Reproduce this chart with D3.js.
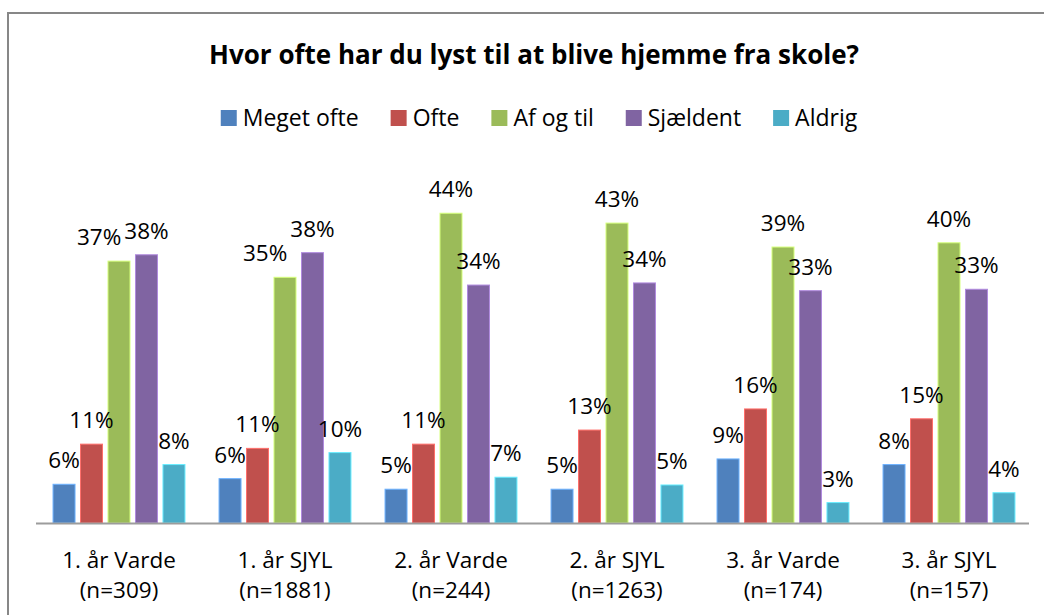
<!DOCTYPE html>
<html>
<head>
<meta charset="utf-8">
<script src="https://cdn.jsdelivr.net/npm/d3@7"></script>
<style>
  body { margin: 0; background: #fff; }
  svg text { font-family: "Open Sans", "Liberation Sans", sans-serif; fill: #000; }
</style>
</head>
<body>
<svg id="chart" width="1044" height="615"></svg>
<script>
const groups = ["1. år Varde", "1. år SJYL", "2. år Varde", "2. år SJYL", "3. år Varde", "3. år SJYL"];
const groupN = ["(n=309)", "(n=1881)", "(n=244)", "(n=1263)", "(n=174)", "(n=157)"];
const series = ["Meget ofte", "Ofte", "Af og til", "Sjældent", "Aldrig"];
const colors = ["#4f81bd", "#c0504d", "#9bbb59", "#8064a2", "#4bacc6"];

// percent values per series, one per group
const megetOfte = [5.5, 6.3, 4.8, 4.8, 9.1, 8.3];
const ofte = [11.2, 10.6, 11.2, 13.2, 16.2, 14.8];
const afOgTil = [37.2, 34.9, 44.0, 42.6, 39.2, 39.8];
const sjaeldent = [38.1, 38.4, 33.8, 34.1, 33.0, 33.2];
const aldrig = [8.3, 10.0, 6.5, 5.4, 2.9, 4.3];
const values = [megetOfte, ofte, afOgTil, sjaeldent, aldrig];

const svg = d3.select("#chart");

// outer frame (right and bottom edges fall outside the picture)
svg.append("rect")
    .attr("x", 8).attr("y", 13)
    .attr("width", 1100).attr("height", 700)
    .attr("fill", "#fff")
    .attr("stroke", "#878787")
    .attr("stroke-width", 2);

const x0 = d3.scaleBand().domain(groups).range([36, 1032]);
const x1 = d3.scaleBand().domain(series).range([0, x0.bandwidth()])
    .paddingInner(0.2).paddingOuter(0.62);
const y = d3.scaleLinear().domain([0, 50]).range([523, 171]);

svg.append("text")
    .attr("x", 534).attr("y", 64)
    .attr("text-anchor", "middle")
    .attr("font-size", 26)
    .attr("font-weight", "bold")
    .text("Hvor ofte har du lyst til at blive hjemme fra skole?");

// legend, laid out from measured text widths and centred
const legend = svg.append("g");
let lx = 0;
series.forEach((s, i) => {
    const item = legend.append("g").attr("transform", `translate(${lx},0)`);
    item.append("rect").attr("x", 0).attr("y", 110).attr("width", 16).attr("height", 16)
        .attr("fill", colors[i]);
    const t = item.append("text").attr("x", 22).attr("y", 126)
        .attr("font-size", 23).text(s);
    lx += 22 + t.node().getComputedTextLength() + 32;
});
lx -= 32;
legend.attr("transform", `translate(${539 - lx / 2},0)`);

// bars
const g = svg.append("g");
groups.forEach((grp, gi) => {
    series.forEach((s, si) => {
        const v = values[si][gi];
        g.append("rect")
            .attr("x", x0(grp) + x1(s))
            .attr("y", y(v))
            .attr("width", x1.bandwidth())
            .attr("height", y(0) - y(v))
            .attr("fill", colors[si])
            .attr("stroke", d3.color(colors[si]).brighter(0.9))
            .attr("stroke-width", 1);
    });
});

// axis line
svg.append("line")
    .attr("x1", 36).attr("x2", 1029)
    .attr("y1", y(0) + 0.5).attr("y2", y(0) + 0.5)
    .attr("stroke", "#9c9c9c").attr("stroke-width", 2);

// data labels, nudged left when they collide with the next one
const labelH = 18;
groups.forEach((grp, gi) => {
    const labels = series.map((s, si) => {
        const v = values[si][gi];
        const t = g.append("text")
            .attr("font-size", 22.5)
            .attr("text-anchor", "middle")
            .attr("x", x0(grp) + x1(s) + x1.bandwidth() / 2)
            .attr("y", y(v) - 16)
            .text(Math.round(v) + "%");
        return { t, cx: x0(grp) + x1(s) + x1.bandwidth() / 2, by: y(v) - 16, w: t.node().getComputedTextLength() };
    });
    for (let i = labels.length - 2; i >= 0; i--) {
        const a = labels[i], b = labels[i + 1];
        const xOver = (a.cx + a.w / 2) - (b.cx - b.w / 2);
        const yOver = Math.abs(a.by - b.by) < labelH + 8;
        if (xOver > 0 && yOver) {
            a.cx -= xOver + 3;
            a.t.attr("x", a.cx);
        }
    }
});

// category labels
const cat = svg.append("g");
groups.forEach((grp, gi) => {
    const cx = x0(grp) + x0.bandwidth() / 2;
    cat.append("text").attr("x", cx).attr("y", 568).attr("text-anchor", "middle")
        .attr("font-size", 22.5).text(grp);
    cat.append("text").attr("x", cx).attr("y", 598).attr("text-anchor", "middle")
        .attr("font-size", 22.5).text(groupN[gi]);
});
</script>
</body>
</html>
